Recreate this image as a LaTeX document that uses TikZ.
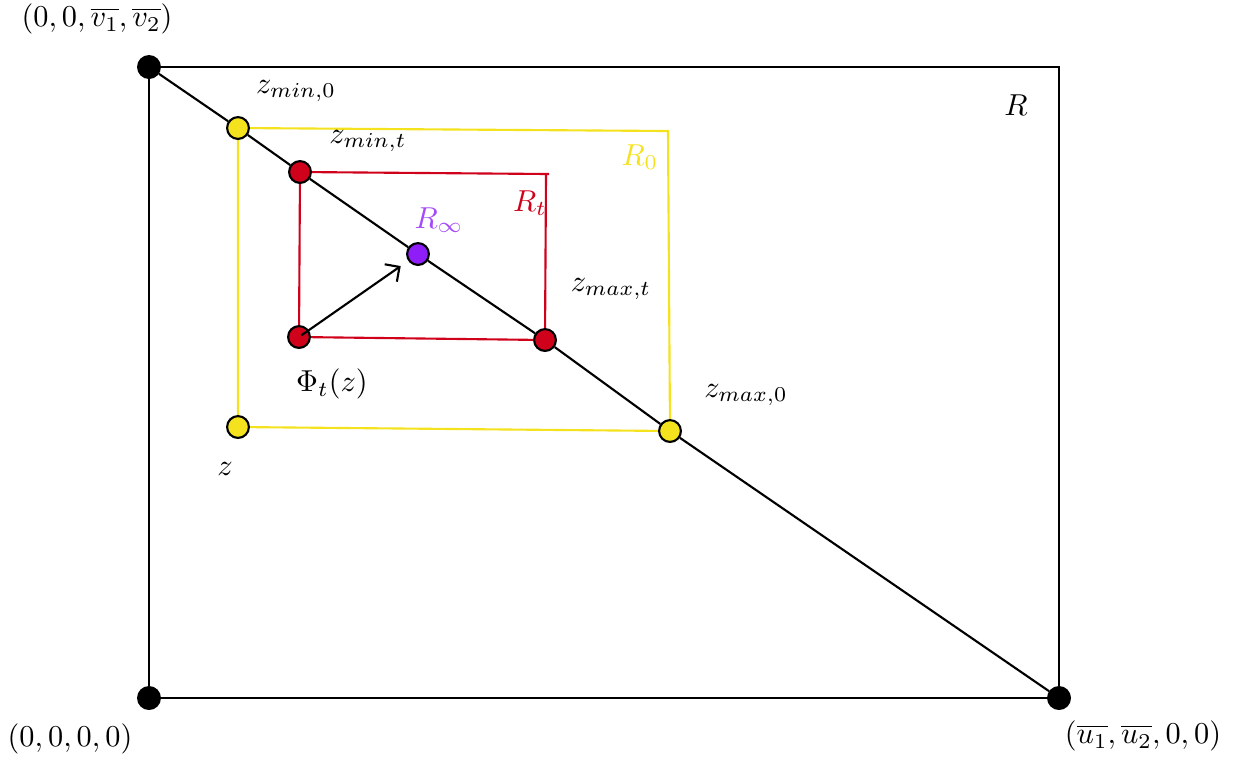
\documentclass[tikz,border=0pt]{standalone}
\usepackage{amsmath, amssymb}
\usepackage{xcolor}
\usetikzlibrary{arrows.meta}
\definecolor{ryellow}{HTML}{F5E21E}
\definecolor{rred}{HTML}{D0021B}
\definecolor{rpurple}{HTML}{8F1DF7}

\begin{document}
\begin{tikzpicture}[x=0.33pt, y=-0.33pt, >={Straight Barb[length=3.5pt,width=7pt]}, line width=0.7pt]
\tikzset{
  dot/.style={circle, draw, line width=0.7pt, minimum size=7.2pt, inner sep=0pt},
  blackdot/.style={dot, fill=black},
  lbl/.style={inner sep=0pt}
}
\useasboundingbox (0,0) rectangle (1241,759);

% Corners of R
\node[blackdot] (tl) at (149,67) {};
\node[blackdot] (bl) at (149,698) {};
\node[blackdot] (br) at (1059,698) {};
\coordinate (tr) at (1059,67);

% Rectangle R_0 (yellow)
\coordinate (y1) at (668,131);
\draw[ryellow] (238,128) -- (y1) -- (670,431) -- (238,427) -- cycle;

% Rectangle R_t (red)
\coordinate (r1) at (549,174);
\coordinate (r2) at (546,174);
\draw[rred] (300,172) -- (r1);
\draw[rred] (r2) -- (545,340) -- (299,337) -- (300,172);

% Points
\node[dot, fill=ryellow] (zmin0) at (238,128) {};
\node[dot, fill=ryellow] (zmax0) at (670,431) {};
\node[dot, fill=ryellow] (z) at (238,427) {};
\node[dot, fill=rred] (zmint) at (300,172) {};
\node[dot, fill=rred] (zmaxt) at (545,340) {};
\node[dot, fill=rred] (phi) at (299,337) {};
\node[dot, fill=rpurple] (rinf) at (418,254) {};

% Boundary of R and diagonal
\draw (tl) -- (tr) -- (br) -- (bl) -- (tl);
\draw (tl) -- (zmin0) -- (zmint) -- (rinf) -- (zmaxt) -- (zmax0) -- (br);

% Trajectory
\draw[->, shorten >=3pt, shorten <=-3pt] (phi) -- (rinf);

% Labels
\node[lbl] at (97,19) {$(0,0,\overline{v_1},\overline{v_2})$};
\node[lbl] at (70,739) {$(0,0,0,0)$};
\node[lbl] at (1143,736) {$(\overline{u_1},\overline{u_2},0,0)$};
\node[lbl] at (1016,105) {$R$};
\node[lbl] at (296,91) {$z_{min,0}$};
\node[lbl] at (368,141) {$z_{min,t}$};
\node[lbl, text=ryellow] at (640,157) {$R_0$};
\node[lbl, text=rred] at (530,203) {$R_t$};
\node[lbl, text=rpurple!80] at (439,220) {$R_\infty$};
\node[lbl] at (611,289) {$z_{max,t}$};
\node[lbl] at (332,384) {$\Phi_t(z)$};
\node[lbl] at (746,395) {$z_{max,0}$};
\node[lbl] at (225,469) {$z$};

\end{tikzpicture}
\end{document}
